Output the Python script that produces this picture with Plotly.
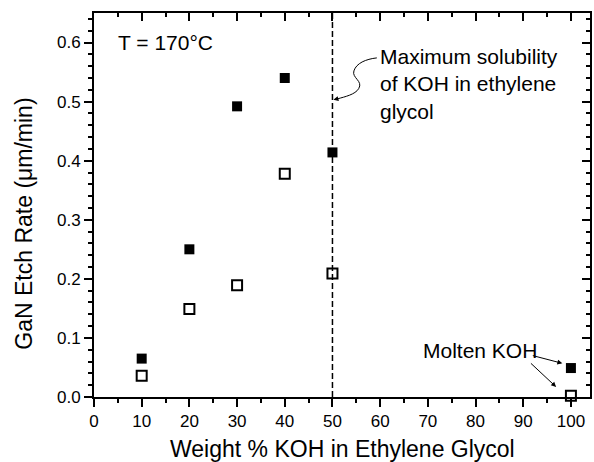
import plotly.graph_objects as go

# Data
x_wt = [10, 20, 30, 40, 50, 100]
rate_filled = [0.065, 0.250, 0.492, 0.540, 0.414, 0.049]
rate_open = [0.036, 0.149, 0.189, 0.378, 0.209, 0.002]
x_ticks = [0, 10, 20, 30, 40, 50, 60, 70, 80, 90, 100]
y_ticks = [0.0, 0.1, 0.2, 0.3, 0.4, 0.5, 0.6]
solubility_limit = 50

FONT = "Liberation Sans, Arial, sans-serif"
XR = [0, 104]
YR = [0, 0.65]

fig = go.Figure()
fig.add_trace(go.Scatter(
    x=x_wt, y=rate_filled, mode="markers",
    marker=dict(symbol="square", size=10, color="black", line=dict(width=0)),
    showlegend=False, cliponaxis=False))
fig.add_trace(go.Scatter(
    x=x_wt, y=rate_open, mode="markers",
    marker=dict(symbol="square-open", size=10, color="black", line=dict(width=2)),
    showlegend=False, cliponaxis=False))
# invisible trace for mirror axes
fig.add_trace(go.Scatter(x=[XR[0]], y=[YR[0]], xaxis="x2", yaxis="y2", mode="markers",
                         marker=dict(opacity=0), showlegend=False, hoverinfo="skip"))

# dashed line at solubility limit
fig.add_shape(type="line", x0=solubility_limit, x1=solubility_limit, y0=0, y1=YR[1],
              xref="x", yref="y", line=dict(color="black", width=1.5, dash="6px,3px"))

# squiggle arrow
fig.add_shape(type="path", xref="x", yref="y",
              path="M 59.3,0.574 C 57,0.572 55,0.565 54.5,0.552 C 54,0.540 56.5,0.535 55.5,0.522 C 54.8,0.512 52.5,0.508 51.2,0.505",
              line=dict(color="black", width=1))
fig.add_annotation(x=50.2, y=0.503, ax=51.6, ay=0.506, axref="x", ayref="y",
                   xref="x", yref="y", text="", showarrow=True,
                   arrowhead=2, arrowsize=1, arrowwidth=1, arrowcolor="black")

annfont = dict(family=FONT, size=21, color="black")
fig.add_annotation(x=4.6, y=0.600, xref="x", yref="y", text="T = 170°C", showarrow=False,
                   xanchor="left", yanchor="middle", font=annfont)
fig.add_annotation(x=59.5, y=0.530, xref="x", yref="y",
                   text="Maximum solubility<br>of KOH in ethylene<br>glycol", showarrow=False,
                   xanchor="left", yanchor="middle", align="left", font=annfont)
fig.add_annotation(x=68.5, y=0.079, xref="x", yref="y", text="Molten KOH", showarrow=False,
                   xanchor="left", yanchor="middle", font=annfont)
# arrows from "Molten KOH"
fig.add_annotation(x=98.2, y=0.057, ax=91.7, ay=0.0707, axref="x", ayref="y", xref="x", yref="y",
                   text="", showarrow=True, arrowhead=2, arrowsize=1, arrowwidth=1, arrowcolor="black")
fig.add_annotation(x=96.9, y=0.017, ax=91.3, ay=0.0593, axref="x", ayref="y", xref="x", yref="y",
                   text="", showarrow=True, arrowhead=2, arrowsize=1, arrowwidth=1, arrowcolor="black")

# axis titles
titlefont = dict(family=FONT, size=23, color="black")
fig.add_annotation(x=0.5, y=-0.1354, xref="paper", yref="paper", text="Weight % KOH in Ethylene Glycol",
                   showarrow=False, xanchor="center", yanchor="middle", font=titlefont)
fig.add_annotation(x=-0.141, y=0.2935, xref="paper", yref="y", text="GaN Etch Rate (μm/min)",
                   showarrow=False, xanchor="center", yanchor="middle", textangle=-90, font=titlefont)

tickfont = dict(family=FONT, size=17, color="black")
fig.update_layout(
    width=594, height=462,
    margin=dict(l=94, r=4, t=13, b=65),
    paper_bgcolor="white", plot_bgcolor="white",
    xaxis=dict(range=XR, tickvals=x_ticks, ticks="outside", ticklen=8, tickwidth=1.5,
               tickcolor="black", showline=True, linecolor="black", linewidth=2,
               showgrid=False, zeroline=False, tickfont=tickfont,
               minor=dict(dtick=5, tick0=0, ticks="outside", ticklen=4, tickwidth=1.5, tickcolor="black", showgrid=False)),
    yaxis=dict(range=YR, tickvals=y_ticks, tickformat=".1f", ticks="outside", ticklen=8, tickwidth=1.5,
               tickcolor="black", showline=True, linecolor="black", linewidth=2,
               showgrid=False, zeroline=False, tickfont=tickfont,
               minor=dict(dtick=0.02, tick0=0, ticks="outside", ticklen=4, tickwidth=1.5, tickcolor="black", showgrid=False)),
    xaxis2=dict(range=XR, overlaying="x", side="top", tickvals=x_ticks, ticks="inside", ticklen=8,
                tickwidth=1.5, tickcolor="black", showticklabels=False, showline=True,
                linecolor="black", linewidth=2, showgrid=False, zeroline=False,
                minor=dict(dtick=5, tick0=0, ticks="inside", ticklen=4, tickwidth=1.5, tickcolor="black", showgrid=False)),
    yaxis2=dict(range=YR, overlaying="y", side="right", tickvals=y_ticks, ticks="inside", ticklen=8,
                tickwidth=1.5, tickcolor="black", showticklabels=False, showline=True,
                linecolor="black", linewidth=2, showgrid=False, zeroline=False,
                minor=dict(dtick=0.02, tick0=0, ticks="inside", ticklen=4, tickwidth=1.5, tickcolor="black", showgrid=False)),
)

fig.write_html("out.html")
